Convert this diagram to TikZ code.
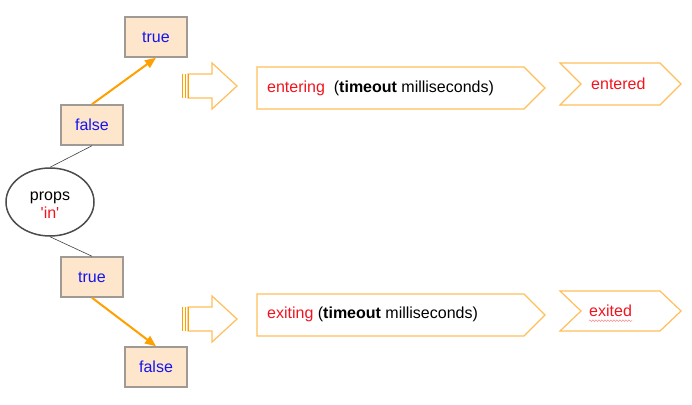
\documentclass[tikz,border=0pt]{standalone}
\usepackage{fontspec}
\setmainfont{Liberation Sans}
\usetikzlibrary{arrows.meta,shapes.geometric,decorations.pathmorphing}
\definecolor{boxfill}{HTML}{FDE6CC}
\definecolor{boxline}{HTML}{A09A94}
\definecolor{valblue}{HTML}{1414F0}
\definecolor{kwred}{HTML}{F0141E}
\definecolor{flow}{HTML}{FFA000}
\definecolor{outl}{HTML}{FFBE5A}
\begin{document}
\begin{tikzpicture}[x=1pt,y=-1pt,
  every node/.style={font=\fontsize{16}{18}\selectfont},
  valbox/.style={draw=boxline,line width=1.5pt,fill=boxfill,minimum width=62pt,minimum height=40pt,inner sep=0pt,text=valblue},
  flowarrow/.style={draw=flow,line width=2pt,-{Triangle[length=11pt,width=9pt]}},
  thinline/.style={draw=black!75,line width=0.6pt},
  outline/.style={draw=outl,line width=1.2pt,line join=miter},
  txt/.style={anchor=west,inner sep=0pt}
]
\useasboundingbox (0,0) rectangle (692,404);

% value boxes
\node[valbox] (t1) at (156,37) {true};
\node[valbox] (f1) at (92,125) {false};
\node[valbox] (t2) at (92,277) {true};
\node[valbox] (f2) at (156,367) {false};

% props ellipse
\node[ellipse,draw=black!70,line width=1.5pt,minimum width=88pt,minimum height=68pt,inner sep=0pt] (props) at (50,202) {};
\node[align=center,inner sep=0pt] (propstxt) at (50,205) {props\\\textcolor{kwred}{\textquotesingle in\textquotesingle}};

% connectors
\draw[thinline] (props.north) -- (f1.south);
\draw[thinline] (props.south) -- (t2.north);
\draw[flowarrow] (f1.north) -- (t1.south);
\draw[flowarrow] (t2.south) -- (f2.north);

% block arrows
\foreach \yc in {86,319}{
  \begin{scope}[yshift=-\yc pt]
  \draw[outline,fill=white] (188,-12) -- (212,-12) -- (212,-23) -- (237,0) -- (212,23) -- (212,12) -- (188,12) -- cycle;
  \draw[draw=flow,line width=1pt] (182,-12) -- (182,12) (185,-12) -- (185,12) (188,-12) -- (188,12);
  \end{scope}
}

% pentagon boxes
\draw[outline] (257,67) -- (524,67) -- (545,88) -- (524,109) -- (257,109) -- cycle;
\draw[outline] (257,294) -- (524,294) -- (545,315) -- (524,336) -- (257,336) -- cycle;
\node[txt] (ent) at (267,88) {\textcolor{kwred}{entering}\ \ (\textbf{timeout} milliseconds)};
\node[txt] (exi) at (267,314) {\textcolor{kwred}{exiting} (\textbf{timeout} milliseconds)};

% chevrons
\draw[outline] (560,63) -- (660,63) -- (681,84) -- (660,105) -- (560,105) -- (581,84) -- cycle;
\draw[outline] (560,291) -- (660,291) -- (681,311) -- (660,331) -- (560,331) -- (581,311) -- cycle;
\node[txt,text=kwred] (entd) at (591,84) {entered};
\node[txt,text=kwred] (exid) at (589,311) {exited};
\draw[draw=kwred!45,line width=0.6pt,decorate,decoration={snake,amplitude=0.8pt,segment length=3pt}] ([yshift=-4pt]exid.base west) -- ([yshift=-4pt]exid.base east);
\end{tikzpicture}
\end{document}
